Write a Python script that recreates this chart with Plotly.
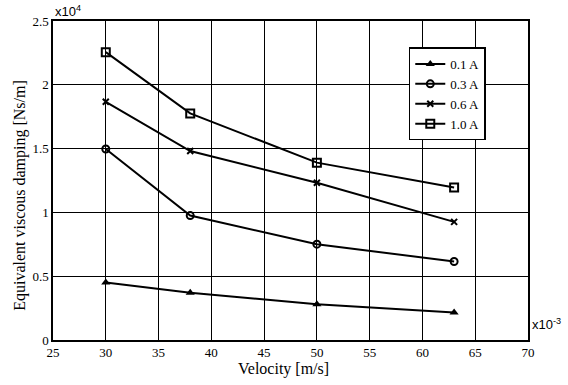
import plotly.graph_objects as go

velocity = [30, 38, 50, 63]  # x10^-3 m/s
series_names = ["0.1 A", "0.3 A", "0.6 A", "1.0 A"]
damp_01 = [0.45, 0.37, 0.28, 0.215]  # x10^4 Ns/m
damp_03 = [1.497, 0.975, 0.751, 0.615]
damp_06 = [1.867, 1.481, 1.233, 0.926]
damp_10 = [2.256, 1.776, 1.39, 1.195]
x_ticks = [25, 30, 35, 40, 45, 50, 55, 60, 65, 70]
y_ticks = [0, 0.5, 1, 1.5, 2, 2.5]
y_tick_text = ["0", "0.5", "1", "1.5", "2", "2.5"]

markers = [
    dict(symbol="triangle-up", size=8, color="black"),
    dict(symbol="circle-open", size=7, color="black", line=dict(width=2)),
    dict(symbol="x-thin-open", size=6, color="black", line=dict(width=2, color="black")),
    dict(symbol="square-open", size=8, color="black", line=dict(width=2)),
]

fig = go.Figure()
for name, vals, mk in zip(series_names, [damp_01, damp_03, damp_06, damp_10], markers):
    fig.add_trace(go.Scatter(
        x=velocity, y=vals, name=name, mode="lines+markers",
        line=dict(color="black", width=2), marker=mk,
    ))

serif = "Liberation Serif"
sans = "Liberation Sans"
axis_common = dict(
    showline=True, linecolor="black", linewidth=1.5, mirror=True,
    showgrid=True, gridcolor="black", gridwidth=1, zeroline=False,
    ticks="", automargin=False,
    tickfont=dict(family=serif, size=13, color="black"),
)

fig.update_layout(
    width=568, height=385,
    margin=dict(l=53, r=40, t=21, b=45),
    plot_bgcolor="white", paper_bgcolor="white",
    xaxis=dict(range=[25, 70], tickvals=x_ticks, **axis_common),
    yaxis=dict(range=[0, 2.5], tickvals=y_ticks, ticktext=y_tick_text, **axis_common),
    legend=dict(x=0.749, y=0.917, xanchor="left", yanchor="top",
                bgcolor="white", bordercolor="black", borderwidth=1.5,
                font=dict(family=serif, size=13, color="black"),
                itemwidth=30, tracegroupgap=0),
    showlegend=True,
    annotations=[
        dict(text="Velocity [m/s]", xref="paper", yref="paper", x=0.486, y=-0.091,
             xanchor="center", yanchor="middle", showarrow=False,
             font=dict(family=serif, size=16, color="black")),
        dict(text="Equivalent viscous damping [Ns/m]", xref="paper", yref="paper", x=-0.0695, y=0.455,
             xanchor="center", yanchor="middle", textangle=-90, showarrow=False,
             font=dict(family=serif, size=16, color="black")),
        dict(text="x10<sup>4</sup>", xref="paper", yref="paper", x=0, y=1, xanchor="left", yanchor="bottom",
             showarrow=False, font=dict(family=sans, size=13, color="black")),
        dict(text="x10<sup>-3</sup>", xref="paper", yref="paper", x=1, y=0.02, xanchor="left", yanchor="bottom",
             showarrow=False, font=dict(family=sans, size=13, color="black"), xshift=2),
    ],
)

fig.write_html("out.html", config={"displayModeBar": False},
               post_script="document.body.style.margin='0';")
